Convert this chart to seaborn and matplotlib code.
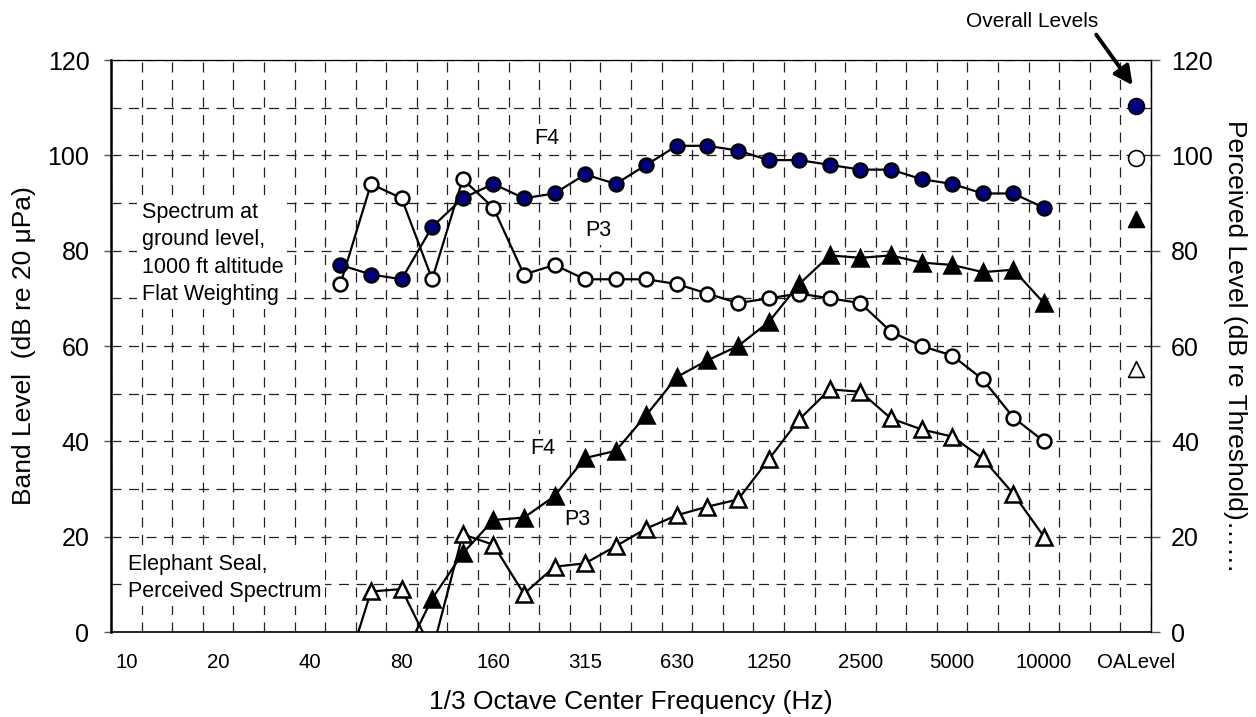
import numpy as np
import pandas as pd
import matplotlib
matplotlib.use('Agg')
import matplotlib.pyplot as plt
import seaborn as sns

# ── Data ──────────────────────────────────────────────────────────────────────
# 1/3 octave band categories on the x axis (labels shown every third one)
BANDS = ['10', '12.5', '16', '20', '25', '31.5', '40', '50', '63', '80', '100',
         '125', '160', '200', '250', '315', '400', '500', '630', '800', '1000',
         '1250', '1600', '2000', '2500', '3150', '4000', '5000', '6300', '8000',
         '10000', '12500', '16000', 'OALevel']

# measured bands: 50 Hz .. 10000 Hz
SPECTRUM_BANDS = ['50', '63', '80', '100', '125', '160', '200', '250', '315', '400',
                  '500', '630', '800', '1000', '1250', '1600', '2000', '2500',
                  '3150', '4000', '5000', '6300', '8000', '10000']

# ground level spectrum (dB re 20 uPa), flat weighting
f4_band = [77, 75, 74, 85, 91, 94, 91, 92, 96, 94, 98, 102, 102, 101, 99, 99,
           98, 97, 97, 95, 94, 92, 92, 89]
p3_band = [73, 94, 91, 74, 95, 89, 75, 77, 74, 74, 74, 73, 71, 69, 70, 71,
           70, 69, 63, 60, 58, 53, 45, 40]

# elephant seal perceived spectrum (dB re threshold)
f4_perceived = [np.nan, np.nan, -6, 7, 16.5, 23.5, 24, 28.5, 36.5, 38, 45.5, 53.5,
                57, 60, 65, 73, 79, 78.5, 79, 77.5, 77, 75.5, 76, 69]
p3_perceived = [-12, 8.5, 9, -4, 20.5, 18.3, 8, 13.7, 14.4, 18, 21.7, 24.5, 26.3,
                27.8, 36.2, 44.6, 50.9, 50.4, 44.8, 42.5, 41, 36.4, 29, 20]

# overall levels (plotted at the OALevel category)
oa_f4_band = 110.4
oa_p3_band = 99.4
oa_f4_perceived = 86.6
oa_p3_perceived = 55.2

NAVY = '#000080'


def series_frame(values):
    pos = [BANDS.index(b) for b in SPECTRUM_BANDS]
    return pd.DataFrame({'pos': pos, 'level': values}).dropna()


# ── Figure ────────────────────────────────────────────────────────────────────
sns.set_theme(style='white')
plt.rcParams['font.family'] = ['Liberation Sans', 'DejaVu Sans']
plt.rcParams['text.color'] = 'black'
plt.rcParams['axes.labelcolor'] = 'black'

fig = plt.figure(figsize=(12.56, 7.17), dpi=100)
ax = fig.add_axes([111 / 1256, 1 - 632 / 717, 1040 / 1256, 572 / 717])

line_kw = dict(color='black', lw=1.6, markersize=10, markeredgecolor='black',
               markeredgewidth=1.8, zorder=4, ax=ax)

sns.lineplot(data=series_frame(f4_band), x='pos', y='level', marker='o',
             markerfacecolor=NAVY, **line_kw)
sns.lineplot(data=series_frame(p3_band), x='pos', y='level', marker='o',
             markerfacecolor='white', **line_kw)
sns.lineplot(data=series_frame(f4_perceived), x='pos', y='level', marker='^',
             markerfacecolor='black', **{**line_kw, 'markersize': 11})
sns.lineplot(data=series_frame(p3_perceived), x='pos', y='level', marker='^',
             markerfacecolor='white', **{**line_kw, 'markersize': 11})

# overall levels, no connecting line
oa = BANDS.index('OALevel')
oa_df = pd.DataFrame({'pos': [oa] * 4,
                      'level': [oa_f4_band, oa_p3_band, oa_f4_perceived, oa_p3_perceived],
                      'kind': ['f4b', 'p3b', 'f4p', 'p3p']})
for kind, marker, face in [('f4b', 'o', NAVY), ('p3b', 'o', 'white'),
                           ('f4p', '^', 'black'), ('p3p', '^', 'white')]:
    sns.scatterplot(data=oa_df[oa_df.kind == kind], x='pos', y='level', marker=marker,
                    s=130, color=face, edgecolor='black', linewidth=1.2, zorder=5,
                    legend=False, ax=ax)

# ── Axes ──────────────────────────────────────────────────────────────────────
ax.set_xlim(-0.5, len(BANDS) - 0.5)
ax.set_ylim(0, 120)

ax.set_xticks(range(0, len(BANDS), 3))
ax.set_xticklabels([BANDS[i] for i in range(0, len(BANDS), 3)])
ax.set_xticks(np.arange(-0.5, len(BANDS)), minor=True)
ax.tick_params(axis='x', which='major', length=0, pad=15, labelsize=14.7,
               labelcolor='black')
ax.tick_params(axis='x', which='minor', direction='inout', length=9, width=1.1,
               color='#555555')

ax.set_yticks(range(0, 121, 20))
ax.set_yticks(range(10, 120, 20), minor=True)
ax.tick_params(axis='y', which='major', direction='out', length=5, width=1,
               color='#555555', pad=10.5, labelsize=18, left=True,
               labelcolor='black')
ax.tick_params(axis='y', which='minor', length=0)

grid_kw = dict(color='#222222', lw=0.9, linestyle=(0, (8, 6)))
ax.grid(axis='x', which='minor', **grid_kw)
ax.grid(axis='y', which='both', **grid_kw)
ax.grid(axis='x', which='major', visible=False)
ax.set_axisbelow(True)

ax.spines['left'].set_linewidth(1.8)
ax.spines['bottom'].set_linewidth(1.2)
ax.spines['top'].set_linewidth(0.9)
ax.spines['right'].set_linewidth(0.9)
for s in ax.spines.values():
    s.set_color('black')

ax.set_xlabel('1/3 Octave Center Frequency (Hz)', fontsize=19)
ax.xaxis.set_label_coords(0.5, -0.101)
ax.set_ylabel('Band Level  (dB re 20 μPa)', fontsize=19, va='center')
ax.yaxis.set_label_coords(-0.0841, 0.5)

ax2 = ax.twinx()
ax2.set_ylim(0, 120)
ax2.set_yticks(range(0, 121, 20))
ax2.tick_params(axis='y', direction='out', length=6.5, width=1, color='#555555',
                pad=8, labelsize=18, right=True, labelcolor='black')
ax2.grid(False)
for side in ['left', 'top', 'bottom']:
    ax2.spines[side].set_visible(False)
ax2.spines['right'].set_linewidth(0.9)
ax2.spines['right'].set_color('black')
ax2.set_ylabel('Perceived Level (dB re Threshold)……', fontsize=19, rotation=-90,
               va='center')
ax2.yaxis.set_label_coords(1.0808, 0.5)

# ── Annotations ───────────────────────────────────────────────────────────────
box = dict(facecolor='white', edgecolor='none', pad=3)
txt = dict(fontsize=15.5, color='black', bbox=box, zorder=3)
ax.text(13.75, 103.6, 'F4', ha='center', va='center', **txt)
ax.text(15.42, 84.2, 'P3', ha='center', va='center', **txt)
ax.text(13.62, 38.4, 'F4', ha='center', va='center', **txt)
ax.text(14.76, 23.7, 'P3', ha='center', va='center', **txt)
ax.text(0.5, 90.2, 'Spectrum at\nground level,\n1000 ft altitude\nFlat Weighting',
        ha='left', va='top', linespacing=1.4, **txt)
ax.text(0.04, 16.4, 'Elephant Seal,\nPerceived Spectrum', ha='left', va='top',
        linespacing=1.37, **txt)

ax.annotate('Overall Levels', xy=(32.9, 114.7), xytext=(29.6, 128.0),
            ha='center', va='center', fontsize=15, color='black',
            annotation_clip=False,
            arrowprops=dict(arrowstyle='-|>', lw=2.8, color='black',
                            mutation_scale=28, shrinkA=0, shrinkB=0,
                            relpos=(0.97, 0.0)))

fig.savefig('out.png', dpi=100)
